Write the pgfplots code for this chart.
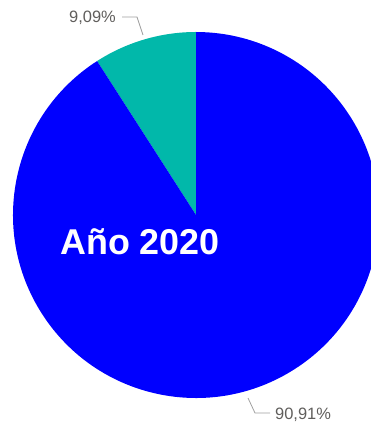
\documentclass[border=0pt]{standalone}
\usepackage{pgfplots}
\pgfplotsset{compat=1.18}
\usepackage{pgfplotstable}
\usepackage{fontspec}
\setmainfont{Liberation Sans}
\definecolor{pieblue}{HTML}{0000FF}
\definecolor{pieteal}{HTML}{01B8AA}
\definecolor{lblgray}{HTML}{605E5C}
\definecolor{leadgray}{HTML}{A0A0A0}
\pgfplotstableread{
label value
Otro 9.09
Principal 90.91
}\piedata
\begin{document}
\begin{tikzpicture}
\pgfplotstablegetelem{0}{value}\of\piedata \let\va\pgfplotsretval
\pgfplotstablegetelem{1}{value}\of\piedata \let\vb\pgfplotsretval
\pgfmathsetmacro{\angA}{90+3.6*\va}
\pgfmathsetmacro{\angB}{\angA+3.6*\vb}
\begin{axis}[scale only axis, width=371bp, height=422bp,
  xmin=0, xmax=371, ymin=0, ymax=422, hide axis, clip=true]
\fill[pieteal] (axis cs:196,207) -- ++(90:183bp) arc[start angle=90, end angle=\angA, radius=183bp] -- cycle;
\fill[pieblue] (axis cs:196,207) -- ++(\angA:183bp) arc[start angle=\angA, end angle=\angB, radius=183bp] -- cycle;
\draw[leadgray, line width=0.8bp] (axis cs:122,405) -- (axis cs:137,405) -- (axis cs:143,387);
\draw[leadgray, line width=0.8bp] (axis cs:248,24) -- (axis cs:255,9) -- (axis cs:270,9);
\node[anchor=base east, font=\fontsize{16.5}{16.5}\selectfont, text=lblgray, inner sep=0] at (axis cs:116,399) {9,09\%};
\node[anchor=base west, font=\fontsize{16.5}{16.5}\selectfont, text=lblgray, inner sep=0] at (axis cs:275,3) {90,91\%};
\node[anchor=base west, font=\bfseries\fontsize{36}{36}\selectfont, text=white, inner sep=0] at (axis cs:60,167) {Año 2020};
\end{axis}
\pgfresetboundingbox
\useasboundingbox (current axis.south west) rectangle (current axis.north east);
\end{tikzpicture}
\end{document}
